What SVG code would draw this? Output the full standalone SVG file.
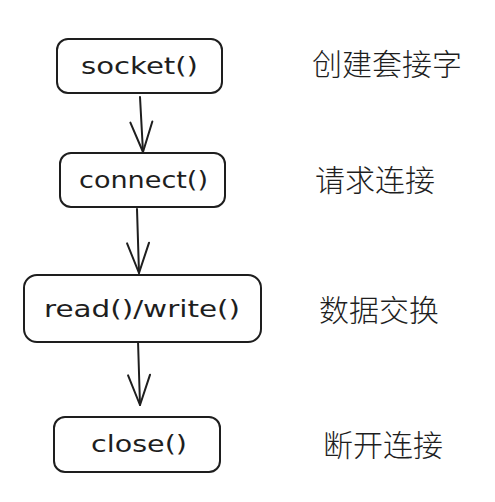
<svg xmlns="http://www.w3.org/2000/svg" width="495" height="502" viewBox="0 0 495 502">
  <defs>
    <style>
      .box { fill: #ffffff; stroke: #1e1e1e; stroke-width: 2; }
      .label { font-family: "DejaVu Sans", "Liberation Sans", sans-serif; font-size: 23px; fill: #1e1e1e; text-anchor: start; }
      .note { font-family: "Noto Sans CJK SC", "Noto Sans", sans-serif; font-size: 30px; font-weight: 300; fill: #1e1e1e; dominant-baseline: central; }
      .edge { fill: none; stroke: #1e1e1e; stroke-width: 2; stroke-linecap: round; }
    </style>
    <marker id="arrow" markerUnits="userSpaceOnUse" viewBox="-32 -13 34 26" refX="0" refY="0" markerWidth="34" markerHeight="26" orient="auto" overflow="visible">
      <path d="M -30 -11 L 0 0 L -30 11" fill="none" stroke="#1e1e1e" stroke-width="2" stroke-linecap="round" stroke-linejoin="round"/>
    </marker>
  </defs>
  <rect width="495" height="502" fill="#ffffff"/>

  <g id="connectors">
    <path class="edge" d="M 140 97 L 143 152" marker-end="url(#arrow)"/>
    <path class="edge" d="M 137 209 L 139 273" marker-end="url(#arrow)"/>
    <path class="edge" d="M 138 341 L 140 405" marker-end="url(#arrow)"/>
  </g>

  <g id="node-socket">
    <rect class="box" x="57" y="39" width="165" height="54" rx="11"/>
    <text class="label" x="81" y="74" textLength="117" lengthAdjust="spacingAndGlyphs">socket()</text>
  </g>
  <g id="node-connect">
    <rect class="box" x="60" y="153" width="165" height="54" rx="11"/>
    <text class="label" x="79" y="188" textLength="129" lengthAdjust="spacingAndGlyphs">connect()</text>
  </g>
  <g id="node-readwrite">
    <rect class="box" x="24" y="275" width="237" height="67" rx="13"/>
    <text class="label" x="44" y="317" textLength="196" lengthAdjust="spacingAndGlyphs">read()/write()</text>
  </g>
  <g id="node-close">
    <rect class="box" x="54" y="417" width="166" height="55" rx="11"/>
    <text class="label" x="91" y="452" textLength="96" lengthAdjust="spacingAndGlyphs">close()</text>
  </g>

  <g id="notes">
    <text class="note" x="312" y="62">创建套接字</text>
    <text class="note" x="315" y="178">请求连接</text>
    <text class="note" x="319" y="308">数据交换</text>
    <text class="note" x="323" y="443">断开连接</text>
  </g>
</svg>
